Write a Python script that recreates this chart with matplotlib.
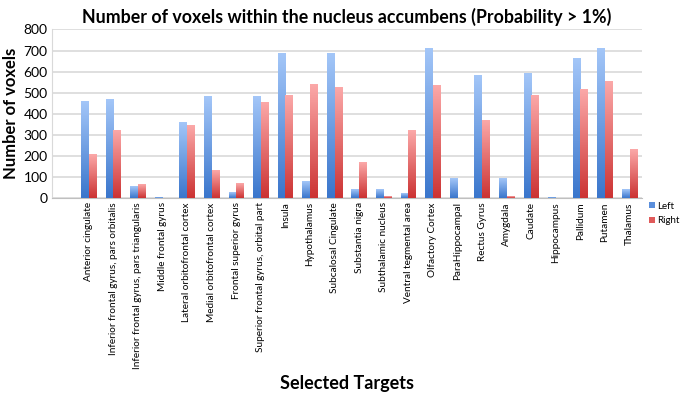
import numpy as np
import matplotlib.pyplot as plt
from matplotlib.colors import LinearSegmentedColormap

# values (voxel counts)
targets = ["Anterior cingulate", "Inferior frontal gyrus, pars orbitalis",
           "Inferior frontal gyrus, pars triangularis", "Middle frontal gyrus",
           "Lateral orbitofrontal cortex", "Medial orbitofrontal cortex",
           "Frontal superior gyrus", "Superior frontal gyrus, orbital part",
           "Insula", "Hypothalamus", "Subcalosal Cingulate", "Substantia nigra",
           "Subthalamic nucleus", "Ventral tegmental area", "Olfactory Cortex",
           "ParaHippocampal", "Rectus Gyrus", "Amygdala", "Caudate",
           "Hippocampus", "Pallidum", "Putamen", "Thalamus"]
left = [457, 465, 55, 2, 356, 481, 28, 481, 683, 77, 684, 42,
        42, 20, 708, 91, 579, 91, 588, 1, 659, 708, 38]
right = [208, 320, 63, 0, 345, 128, 68, 451, 484, 536, 525, 166,
         9, 322, 535, 0, 369, 8, 486, 0, 512, 554, 229]
yticks = [0, 100, 200, 300, 400, 500, 600, 700, 800]

plt.rcParams['font.family'] = ['Lato', 'DejaVu Sans']

fig = plt.figure(figsize=(6.8, 3.98), dpi=100)
ax = fig.add_axes([0.076, 0.502, 0.868, 0.424])

x = np.arange(1, len(targets) + 1)
w = 0.31

blue_cm = LinearSegmentedColormap.from_list("b", ["#3a76cc", "#a3c6f8"])
red_cm = LinearSegmentedColormap.from_list("r", ["#cc3333", "#fba8a8"])
grad = np.linspace(0, 1, 64).reshape(-1, 1)

bl = ax.bar(x - w / 2, left, w, color="#5b8fdc", label="Left", zorder=2)
br = ax.bar(x + w / 2, right, w, color="#e05a5a", label="Right", zorder=2)
for bars, cm in ((bl, blue_cm), (br, red_cm)):
    for b in bars:
        h = b.get_height()
        if h <= 0:
            continue
        x0 = b.get_x()
        ax.imshow(grad, cmap=cm, origin="lower", aspect="auto",
                  extent=(x0, x0 + b.get_width(), 0, h), zorder=3)

ax.set_xlim(-0.5, len(targets) + 0.5)
ax.set_ylim(0, 800)
ax.set_yticks(yticks)
ax.set_yticklabels([str(v) for v in yticks], fontsize=10)
ax.set_xticks(x)
ax.set_xticklabels(targets, rotation=90, fontsize=7.2, va="top", ha="center")
ax.tick_params(length=0, pad=3)
ax.yaxis.grid(True, color="#d9d9d9", linewidth=1.2, zorder=0)
ax.set_axisbelow(True)
for s in ("top", "right"):
    ax.spines[s].set_visible(False)
ax.spines["left"].set_color("#d9d9d9")
ax.spines["bottom"].set_color("#bfbfbf")

ax.set_title("Number of voxels within the nucleus accumbens (Probability > 1%)",
             fontsize=12.8, fontweight="bold", pad=5)
ax.set_ylabel("Number of voxels", fontsize=12, fontweight="bold", labelpad=3)
fig.text(0.51, 0.037, "Selected Targets", fontsize=13, fontweight="bold",
         ha="center", va="center")

leg = ax.legend(loc="upper left", bbox_to_anchor=(1.0, 0.02), frameon=False,
                fontsize=7, handlelength=0.6, handleheight=0.6,
                handletextpad=0.3, labelspacing=0.6, borderaxespad=0.3)

fig.savefig("out.png", dpi=100)
